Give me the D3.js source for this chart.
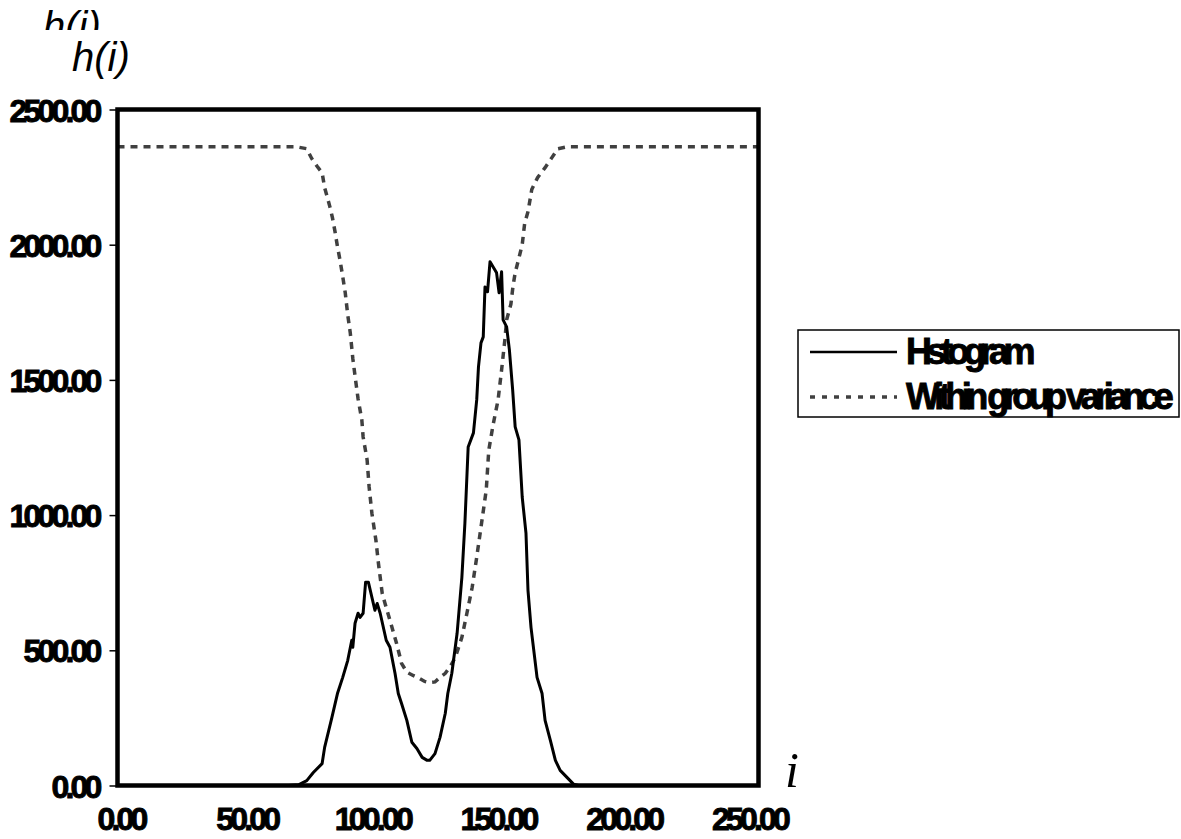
<!DOCTYPE html>
<html lang="en">
<head>
    <meta charset="UTF-8">
    <title>Histogram and within group variance</title>
    <script src="https://d3js.org/d3.v7.min.js"></script>
    <style>
        body { margin: 0; background: #ffffff; }
        .tick-label {
            font-family: "Liberation Sans", Arial, sans-serif;
            font-weight: bold;
            font-size: 32px;
            letter-spacing: -3.8px;
            fill: #000000;
            stroke: #000000;
            stroke-width: 0.9px;
        }
        .legend-label {
            font-family: "Liberation Sans", Arial, sans-serif;
            font-weight: bold;
            font-size: 36px;
            letter-spacing: -5.5px;
            stroke: #000000;
            stroke-width: 0.9px;
        }
    </style>
</head>
<body>
<svg id="chart" width="1181" height="839"></svg>
<script>
    // Histogram h(i)
    const histI = [0, 68.1, 72.2, 75.3, 77.9, 81.4, 82.4, 85.3, 87.5, 89.6, 91.6, 93.2, 93.6, 94.5, 95.7, 96.5,
        97.7, 98.7, 99.8, 102.4, 103.3, 104.5, 106.9, 108.4, 110.4, 111.7, 113.0, 115.1, 117.1, 119.1,
        121.2, 123.2, 124.2, 126.3, 128.3, 130.4, 131.4, 133.0, 135.1, 137.0, 138.2, 139.5, 141.6, 142.9,
        143.6, 144.6, 145.5, 146.2, 147.2, 148.2, 150.8, 151.8, 152.8, 153.4, 154.8, 155.9, 157.2, 158.2,
        159.7, 161.0, 162.5, 163.3, 164.5, 166.9, 168.9, 170.1, 172.2, 174.2, 176.1, 178.8, 181.4, 183.4, 255];
    const histVals = [0, 0, 3, 18, 48, 81, 141, 252, 340, 400, 463, 537, 511, 600, 637, 622,
        637, 752, 752, 648, 673, 637, 537, 511, 415, 340, 303, 241, 160, 137,
        104, 93, 93, 118, 178, 267, 340, 415, 563, 770, 970, 1252, 1304, 1426,
        1548, 1637, 1659, 1844, 1826, 1937, 1896, 1822, 1900, 1722, 1696, 1611, 1463, 1326,
        1278, 1067, 933, 722, 585, 400, 340, 241, 167, 93, 56, 30, 5, 0, 0];

    // Within group variance
    const varI = [0, 71.2, 75.3, 77.3, 79.4, 81.4, 82.4, 83.4, 84.5, 85.5, 86.5, 87.5, 88.5, 89.6, 90.6,
        91.6, 92.6, 93.6, 94.7, 95.7, 97.2, 97.7, 99.3, 100.1, 101.2, 102.8, 103.8, 105.3, 106.4, 108.4,
        111.0, 113.0, 115.1, 117.6, 120.2, 122.2, 124.2, 126.3, 128.3, 130.4, 132.4, 134.4, 137.0, 139.0,
        141.1, 142.9, 144.6, 146.7, 147.7, 149.4, 151.4, 152.8, 154.1, 154.8, 156.5, 157.3, 158.2, 159.4,
        161.0, 162.0, 163.3, 164.8, 167.1, 170.1, 172.8, 175.2, 178.8, 255];
    const varVals = [2362, 2362, 2355, 2318, 2290, 2266, 2211, 2178, 2140, 2100, 2050, 1993, 1944, 1882, 1822,
        1740, 1674, 1580, 1500, 1430, 1352, 1290, 1204, 1104, 1007, 907, 822, 711, 674, 611,
        526, 452, 419, 407, 396, 385, 381, 383, 400, 415, 440, 474, 548, 637,
        733, 844, 955, 1093, 1240, 1333, 1426, 1537, 1648, 1722, 1780, 1844, 1896, 1940,
        2000, 2081, 2122, 2204, 2248, 2285, 2322, 2355, 2362, 2362];

    const xTicks = [0, 50, 100, 150, 200, 250];
    const yTicks = [0, 500, 1000, 1500, 2000, 2500];
    const seriesNames = ["Hstogram", "Within group variance"];

    const plot = { left: 117.5, right: 758.5, top: 109.5, bottom: 785.5 };
    const svg = d3.select("#chart");

    const x = d3.scaleLinear().domain([0, 255]).range([plot.left, plot.right]);
    const y = d3.scaleLinear().domain([0, 2500]).range([plot.bottom, plot.top]);

    // h(i) labels at the top (the first one is cut off)
    svg.append("clipPath").attr("id", "cut")
        .append("rect").attr("x", 0).attr("y", 0).attr("width", 300).attr("height", 30);
    svg.append("text")
        .attr("x", 43).attr("y", 40)
        .attr("clip-path", "url(#cut)")
        .style("font-family", "Liberation Sans, Arial, sans-serif")
        .style("font-style", "italic")
        .style("font-size", "40px")
        .text("h(i)");
    svg.append("text")
        .attr("x", 72).attr("y", 71)
        .style("font-family", "Liberation Sans, Arial, sans-serif")
        .style("font-style", "italic")
        .style("font-size", "40px")
        .text("h(i)");

    // y axis
    const yAxis = svg.append("g")
        .attr("transform", `translate(${plot.left},0)`)
        .call(d3.axisLeft(y).tickValues(yTicks).tickSize(8).tickPadding(11).tickFormat(d3.format(".2f")));
    yAxis.select(".domain").remove();
    yAxis.selectAll("line").attr("stroke", "#000").attr("stroke-width", 1.5);
    yAxis.selectAll("text").attr("class", "tick-label").attr("dy", "0.36em");

    // x axis labels, no tick marks
    const xAxis = svg.append("g")
        .attr("transform", `translate(3,${plot.bottom})`)
        .call(d3.axisBottom(x).tickValues(xTicks).tickSize(0).tickPadding(22).tickFormat(d3.format(".2f")));
    xAxis.select(".domain").remove();
    xAxis.selectAll("text").attr("class", "tick-label");

    // lines
    const histLine = d3.line().x((d, k) => x(histI[k])).y(d => y(d));
    const varLine = d3.line().x((d, k) => x(varI[k])).y(d => y(d));

    svg.append("path")
        .datum(varVals)
        .attr("d", varLine)
        .attr("fill", "none")
        .attr("stroke", "#404040")
        .attr("stroke-width", 3.5)
        .attr("stroke-dasharray", "7,6");

    svg.append("path")
        .datum(histVals)
        .attr("d", histLine)
        .attr("fill", "none")
        .attr("stroke", "#000")
        .attr("stroke-width", 3)
        .attr("stroke-linejoin", "round");

    // frame
    svg.append("rect")
        .attr("x", plot.left).attr("y", plot.top)
        .attr("width", plot.right - plot.left)
        .attr("height", plot.bottom - plot.top)
        .attr("fill", "none")
        .attr("stroke", "#000")
        .attr("stroke-width", 4.5);

    // i axis label
    svg.append("text")
        .attr("x", 785).attr("y", 787)
        .style("font-family", "Liberation Serif, Times New Roman, serif")
        .style("font-style", "italic")
        .style("font-size", "50px")
        .text("i");

    // legend
    const legend = svg.append("g");
    legend.append("rect")
        .attr("x", 798).attr("y", 330)
        .attr("width", 381).attr("height", 87)
        .attr("fill", "#fff")
        .attr("stroke", "#000")
        .attr("stroke-width", 1.5);
    const legendStyles = [
        { stroke: "#000", width: 2.5, dash: null },
        { stroke: "#404040", width: 3.5, dash: "5,7" }
    ];
    seriesNames.forEach((name, k) => {
        const ly = 352 + k * 45;
        legend.append("line")
            .attr("x1", 810).attr("x2", 897)
            .attr("y1", ly).attr("y2", ly)
            .attr("stroke", legendStyles[k].stroke)
            .attr("stroke-width", legendStyles[k].width)
            .attr("stroke-dasharray", legendStyles[k].dash);
        legend.append("text")
            .attr("class", "legend-label")
            .attr("x", 906).attr("y", ly + 12)
            .text(name);
    });
</script>
</body>
</html>
